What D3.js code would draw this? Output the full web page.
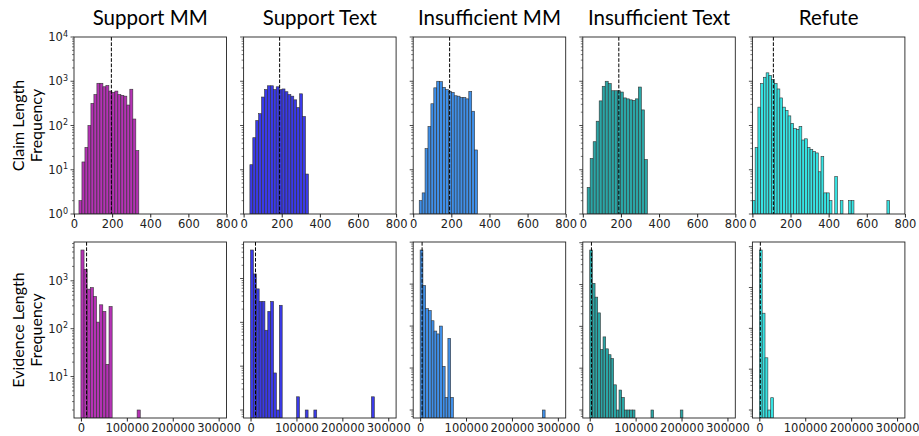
<!DOCTYPE html>
<html>
<head>
<meta charset="utf-8">
<script src="https://cdn.jsdelivr.net/npm/d3@7"></script>
<style>
  body { margin: 0; background: #fff; }
  text { fill: #222; }
</style>
</head>
<body>
<svg id="chart" width="919" height="436"></svg>
<script>
// panel titles / colours
var titles = ["Support MM", "Support Text", "Insufficient MM", "Insufficient Text", "Refute"];
var colors = ["#b532b5", "#3a3ae8", "#3f8fe8", "#2ba6a6", "#36e4e4"];
var rowLabels = [["Claim Length", "Frequency"], ["Evidence Length", "Frequency"]];

// claim length histograms (bin start, bin width, counts)
var claimStart = [26, 33, 31.6, 22.8, 0];
var claimWidth = [15.7, 15.35, 15.3, 15.8, 14.4];
var claimCounts = [
  [2, 15, 32, 100, 316, 500, 900, 900, 750, 800, 600, 560, 600, 500, 480, 460, 290, 660, 140, 27],
  [13, 53, 130, 185, 440, 650, 790, 790, 650, 750, 650, 670, 580, 500, 460, 380, 255, 520, 160, 8],
  [2, 3, 30, 95, 310, 710, 1000, 980, 730, 650, 590, 560, 470, 460, 430, 430, 400, 590, 210, 28],
  [4, 18, 43, 125, 360, 770, 1000, 890, 610, 610, 610, 570, 420, 400, 380, 370, 400, 740, 225, 17],
  [2, 32, 260, 890, 1230, 1550, 1360, 1090, 890, 670, 420, 260, 220, 165, 112, 85, 82, 95, 47, 50,
   32, 29, 26, 24, 9, 20, 3, 3, 2, 0, 7, 0, 2, 0, 0, 2, 2, 0, 0, 0,
   0, 0, 0, 0, 0, 0, 0, 0, 0, 2]
];
var claimMedian = [196, 189, 191, 189, 110];

// evidence length histograms
var evidStart = [0, 0, 0, 0, 0];
var evidWidth = [6800, 6270, 6050, 5800, 6200];
var evidCounts = [
  [4400, 1740, 670, 720, 470, 137, 315, 230, 18, 290, 0, 0, 0, 0, 0, 0, 0, 0, 2],
  [4470, 1270, 580, 300, 300, 66, 178, 300, 7, 1, 245, 0, 0, 0, 0, 0, 2, 0, 0, 1,
   0, 0, 1, 0, 0, 0, 0, 0, 0, 0, 0, 0, 0, 0, 0, 0, 0, 0, 0, 0, 0, 0, 2],
  [6500, 930, 260, 235, 134, 76, 65, 100, 11, 2, 51, 2, 0, 0, 0, 0, 0, 0, 0, 0,
   0, 0, 0, 0, 0, 0, 0, 0, 0, 0, 0, 0, 0, 0, 0, 0, 0, 0, 0, 0, 0, 0, 0, 0, 1],
  [6700, 1070, 500, 210, 28, 56, 29, 21, 17, 4, 1, 3, 2, 1, 1, 1, 1, 0, 0, 0,
   0, 0, 0, 1, 0, 0, 0, 0, 0, 0, 0, 0, 0, 0, 1],
  [8300, 235, 19, 1, 2]
];
var evidMedian = [12300, 10800, 4300, 3700, 2200];

var claimTicks = [0, 200, 400, 600, 800];
var evidTicks = [0, 100000, 200000, 300000];

var svg = d3.select("#chart");
var pw = 152.5;
var rowTop = [37, 242], rowH = [177, 176];
function panelLeft(c) { return 74 + c * 169.6; }

// titles
titles.forEach(function(t, c) {
  svg.append("text")
    .attr("x", panelLeft(c) + pw / 2).attr("y", 25)
    .attr("text-anchor", "middle")
    .style("font-family", "Lato, 'Open Sans', sans-serif").style("font-size", "20.5px")
    .style("fill", "#000")
    .text(t);
});

// row labels
rowLabels.forEach(function(lines, r) {
  var cy = rowTop[r] + rowH[r] / 2;
  lines.forEach(function(l, k) {
    var xx = 18 + k * 18;
    svg.append("text")
      .attr("transform", "translate(" + xx + "," + cy + ") rotate(-90)")
      .attr("text-anchor", "middle").attr("dy", "0.35em")
      .style("font-family", "Lato, 'Open Sans', sans-serif").style("font-size", "16px")
      .style("fill", "#000")
      .text(l);
  });
});

function drawPanel(r, c) {
  var ph = rowH[r];
  var g = svg.append("g").attr("transform", "translate(" + panelLeft(c) + "," + rowTop[r] + ")");
  var counts = r == 0 ? claimCounts[c] : evidCounts[c];
  var start = r == 0 ? claimStart[c] : evidStart[c];
  var w = r == 0 ? claimWidth[c] : evidWidth[c];
  var med = r == 0 ? claimMedian[c] : evidMedian[c];

  var x = r == 0
    ? d3.scaleLinear().domain([0, 800]).range([0, pw])
    : d3.scaleLinear().domain([-15100, 317100]).range([0, pw]);

  var y;
  if (r == 0) {
    y = d3.scaleLog().domain([1, 1e4]).range([ph, 0]);
  } else {
    // matplotlib style 5% margin in log space
    var pos = counts.filter(function(d) { return d > 0; });
    var lo = Math.log10(d3.min(pos)), hi = Math.log10(d3.max(pos));
    var m = 0.05 * (hi - lo);
    y = d3.scaleLog().domain([Math.pow(10, lo - m), Math.pow(10, hi + m)]).range([ph, 0]);
  }

  var clipId = "clip" + r + c;
  g.append("clipPath").attr("id", clipId)
    .append("rect").attr("width", pw).attr("height", ph);

  var bins = counts.map(function(d, i) { return {x0: start + i * w, x1: start + (i + 1) * w, n: d}; })
    .filter(function(d) { return d.n > 0; });

  g.append("g").attr("clip-path", "url(#" + clipId + ")")
    .selectAll("rect").data(bins).enter().append("rect")
      .attr("x", function(d) { return x(d.x0); })
      .attr("width", function(d) { return x(d.x1) - x(d.x0); })
      .attr("y", function(d) { return y(d.n); })
      .attr("height", function(d) { return Math.max(0, ph - y(d.n)); })
      .style("fill", colors[c])
      .style("stroke", "#333").style("stroke-width", 0.6);

  // median line
  g.append("line")
    .attr("x1", x(med)).attr("x2", x(med)).attr("y1", 0).attr("y2", ph)
    .style("stroke", "#000").style("stroke-width", 1)
    .style("stroke-dasharray", "3.7,1.6");

  // spines
  g.append("rect").attr("width", pw).attr("height", ph)
    .style("fill", "none").style("stroke", "#222").style("stroke-width", 0.9);

  // x axis
  var xa = g.append("g").attr("transform", "translate(0," + ph + ")")
    .call(d3.axisBottom(x).tickValues(r == 0 ? claimTicks : evidTicks)
      .tickSize(3.5).tickPadding(2).tickFormat(d3.format("d")));
  xa.select(".domain").remove();
  xa.selectAll("line").style("stroke", "#222");
  xa.selectAll("text").style("font-family", "'DejaVu Sans', sans-serif").style("font-size", "11.5px").style("fill", "#222");

  // y ticks (log, major + minor)
  var dom = y.domain();
  var ticks = [];
  for (var e = Math.floor(Math.log10(dom[0])); e <= Math.ceil(Math.log10(dom[1])); e++) {
    for (var k = 1; k < 10; k++) {
      var v = k * Math.pow(10, e);
      if (v >= dom[0] * 0.9999 && v <= dom[1] * 1.0001) ticks.push({v: v, e: e, major: k == 1});
    }
  }
  g.selectAll(".yt").data(ticks).enter().append("line")
    .attr("x1", function(d) { return d.major ? -3.5 : -2; }).attr("x2", 0)
    .attr("y1", function(d) { return y(d.v); }).attr("y2", function(d) { return y(d.v); })
    .style("stroke", "#222").style("stroke-width", function(d) { return d.major ? 0.8 : 0.6; });

  if (c == 0) {
    var lab = g.selectAll(".yl").data(ticks.filter(function(d) { return d.major; })).enter().append("text")
      .attr("x", -6).attr("y", function(d) { return y(d.v); })
      .attr("dy", "0.35em").attr("text-anchor", "end")
      .style("font-family", "'DejaVu Sans', sans-serif").style("font-size", "11.5px");
    lab.append("tspan").text("10");
    lab.append("tspan").attr("dy", "-0.55em").style("font-size", "8px")
      .text(function(d) { return d.e; });
  }
}

for (var r = 0; r < 2; r++) {
  for (var c = 0; c < 5; c++) drawPanel(r, c);
}
</script>
</body>
</html>
